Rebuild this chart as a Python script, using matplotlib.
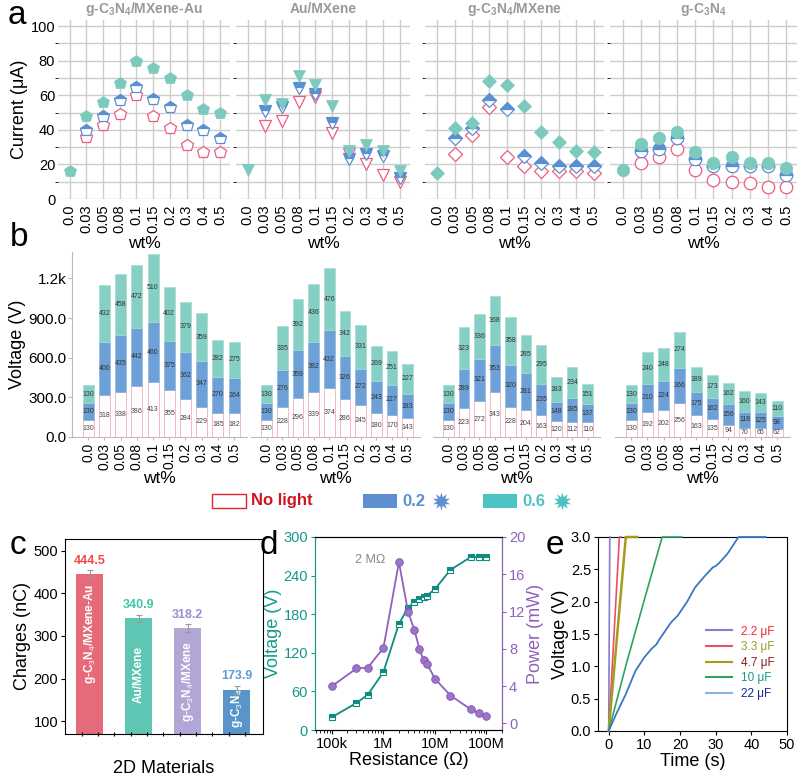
import numpy as np
import matplotlib
matplotlib.use('Agg')
import matplotlib.pyplot as plt
from matplotlib.patches import Rectangle
from matplotlib.lines import Line2D

plt.rcParams['font.family'] = ['Liberation Sans', 'DejaVu Sans']
plt.rcParams['mathtext.fontset'] = 'custom'
plt.rcParams['mathtext.rm'] = 'Liberation Sans'
plt.rcParams['mathtext.it'] = 'Liberation Sans:italic'
plt.rcParams['mathtext.bf'] = 'Liberation Sans:bold'

nan = np.nan

# ---------------- data ----------------
wt = ['0.0', '0.03', '0.05', '0.08', '0.1', '0.15', '0.2', '0.3', '0.4', '0.5']
titles = ['g-C$_\\mathbf{3}$N$_\\mathbf{4}$/MXene-Au', 'Au/MXene',
          'g-C$_\\mathbf{3}$N$_\\mathbf{4}$/MXene', 'g-C$_\\mathbf{3}$N$_\\mathbf{4}$']
markers = ['p', 'v', 'D', 'o']

# panel a: current (uA), no light / 0.2 / 0.6
cur_dark = [
    [nan, 36, 43, 49, 60, 48, 41, 31, 27, 27],
    [nan, 42, 45, 56, 59, 38, 26, 20, 14, 10],
    [nan, 26, 37, 53, 24, 19, 16, 16, 16, 15],
    [nan, 21, 24, 29, 17, 11, 10, 9, 7, 7],
]
cur_02 = [
    [nan, 40, 48, 57, 65, 58, 53, 43, 40, 35],
    [nan, 51, 53, 64, 61, 44, 23, 26, 25, 12],
    [nan, 35, 41, 57, 52, 25, 21, 19, 19, 19],
    [nan, 28, 29, 35, 23, 19, 19, 19, 19, 14],
]
cur_06 = [
    [16, 48, 56, 67, 80, 76, 70, 60, 52, 50],
    [17, 57, 55, 71, 66, 54, 28, 31, 28, 16],
    [15, 41, 44, 68, 66, 54, 39, 33, 28, 27],
    [17, 32, 35, 39, 27, 21, 24, 21, 21, 18],
]

# panel b: voltage (V) stacked
volt_dark = [
    [130, 318, 338, 386, 413, 355, 284, 229, 185, 182],
    [130, 228, 296, 339, 374, 286, 245, 180, 170, 143],
    [130, 223, 272, 343, 228, 204, 163, 120, 112, 110],
    [130, 192, 202, 256, 163, 135, 94, 70, 65, 62],
]
volt_02 = [
    [130, 400, 435, 442, 460, 375, 362, 347, 270, 264],
    [130, 276, 359, 382, 432, 326, 272, 243, 227, 183],
    [130, 289, 321, 353, 320, 281, 235, 148, 185, 137],
    [130, 210, 224, 266, 175, 162, 156, 118, 125, 98],
]
volt_06 = [
    [130, 432, 458, 472, 510, 402, 379, 359, 282, 275],
    [130, 335, 392, 436, 476, 342, 331, 269, 251, 227],
    [130, 323, 336, 368, 358, 285, 295, 183, 234, 151],
    [130, 240, 248, 274, 189, 173, 162, 160, 143, 110],
]

# panel c
c_labels = ['g-C$_3$N$_4$/MXene-Au', 'Au/MXene', 'g-C$_3$N$_4$/MXene', 'g-C$_3$N$_4$']
charges = [444.5, 340.9, 318.2, 173.9]
charges_err = [9, 9, 9, 9]

# panel d
resist = [1e5, 3e5, 5e5, 1e6, 2e6, 3e6, 4e6, 5e6, 6e6, 7e6, 1e7, 2e7, 5e7, 7e7, 1e8]
volt_r = [20, 42, 55, 90, 165, 190, 199, 204, 207, 209, 219, 249, 269, 269, 269]
power_r = [4.0, 5.9, 6.0, 8.1, 17.3, 12.0, 10.0, 8.0, 6.8, 6.4, 4.8, 3.0, 1.5, 1.1, 0.8]

# panel e: charging curves
cap_labels = ['2.2 \u03bcF', '3.3 \u03bcF', '4.7 \u03bcF', '10 \u03bcF', '22 \u03bcF']
t_22 = [0, 2, 4.8, 7.5, 10, 12, 13.4, 14, 16.5, 17.5, 19.3, 22, 24.2, 27, 29.2, 30, 31, 33.3, 36.4, 44]
v_22 = [0, 0.25, 0.57, 0.93, 1.14, 1.27, 1.34, 1.40, 1.60, 1.68, 1.78, 2.0, 2.22, 2.40, 2.53, 2.55, 2.6, 2.74, 3.0, 3.0]
t_10 = [0, 5, 10, 15, 20.5]
v_10 = [0, 1.05, 2.03, 3.0, 3.0]
t_47 = [0, 4.8, 8]
v_47 = [0, 3.0, 3.0]
t_33 = [0, 3.0, 3.4]
v_33 = [0, 3.0, 3.0]
t_22u = [0, 0.3]
v_22u = [0, 3.0]

# ---------------- style ----------------
red = '#EE5C7E'
blue = '#5B8FD3'
teal = '#7CCABD'
bar_blue = '#6CA0D6'
bar_teal = '#85CFC4'
gray_t = '#9A9A9A'

W, H = 800, 777


def box(l, t, r, b):
    return [l / W, 1 - b / H, (r - l) / W, (b - t) / H]


fig = plt.figure(figsize=(8, 7.77), dpi=100)

# ---------------- panel a ----------------
a_boxes = [(58, 20, 230, 199), (236, 20, 410, 199), (425, 20, 604, 199), (610, 20, 797, 199)]
x = np.arange(len(wt))
for i in range(4):
    ax = fig.add_axes(box(*a_boxes[i]))
    m = markers[i]
    ms = 9 if m != 'D' else 7.5
    ax.plot(x, cur_dark[i], m, ls='none', ms=ms, mfc='white', mec=red, mew=0.9)
    ax.plot(x, cur_02[i], m, ls='none', ms=ms, color=blue, fillstyle='top',
            mfc=blue, mfcalt='white', mec=blue, mew=0.9)
    ax.plot(x, cur_06[i], m, ls='none', ms=ms, mfc=teal, mec=teal, mew=0.5)
    ax.set_xlim(-0.7, 9.6)
    ax.set_ylim(0, 103.5)
    ax.set_xticks(x)
    ax.set_xticklabels(wt, rotation=90, fontsize=10)
    ax.set_yticks(np.arange(0, 101, 10), minor=True)
    ax.set_yticks([0, 20, 40, 60, 80, 100])
    ax.grid(True, which='both', color='#CCCCCC', lw=1)
    ax.set_axisbelow(True)
    for s in ax.spines.values():
        s.set_visible(False)
    ax.tick_params(length=0, pad=2, labelsize=10.5)
    ax.tick_params(axis='x', pad=4)
    if i > 0:
        ax.set_yticklabels([])
    else:
        ax.set_ylabel('Current (\u03bcA)', fontsize=13, labelpad=2)
    ax.set_xlabel('wt%', fontsize=12.5, labelpad=2)
    ax.set_title(titles[i], fontsize=10, fontweight='bold', color=gray_t, pad=5)

# ---------------- panel b ----------------
b_boxes = [(72, 252, 247, 437), (251, 252, 420, 437), (433, 252, 600, 437), (615, 252, 790, 437)]
for i in range(4):
    ax = fig.add_axes(box(*b_boxes[i]))
    d = np.array(volt_dark[i])
    v2 = np.array(volt_02[i])
    v6 = np.array(volt_06[i])
    ax.bar(x, d, width=0.68, color='white', edgecolor='#F6B8C6', lw=0.7)
    ax.bar(x, v2, bottom=d, width=0.68, color=bar_blue, edgecolor='#8DB6E2', lw=0.5)
    ax.bar(x, v6, bottom=d + v2, width=0.68, color=bar_teal, edgecolor='#A5DCD4', lw=0.5)
    for j in range(len(x)):
        ax.text(x[j], d[j] / 2, str(d[j]), ha='center', va='center', fontsize=5, color='#444444')
        ax.text(x[j], d[j] + v2[j] / 2, str(v2[j]), ha='center', va='center', fontsize=5, color='#333333')
        ax.text(x[j], d[j] + v2[j] + v6[j] / 2, str(v6[j]), ha='center', va='center', fontsize=5, color='#333333')
    ax.set_xlim(-1.0, 9.8)
    ax.set_ylim(0, 1400)
    ax.set_xticks(x)
    ax.set_xticklabels(wt, rotation=90, fontsize=10)
    for s in ['top', 'right']:
        ax.spines[s].set_visible(False)
    ax.spines['bottom'].set_color('#BBBBBB')
    ax.spines['left'].set_color('#BBBBBB')
    ax.tick_params(axis='x', length=2, color='#BBBBBB', pad=2)
    if i == 0:
        ax.set_yticks([0, 300, 600, 900, 1200])
        ax.set_yticklabels(['0.0', '300.0', '600.0', '900.0', '1.2k'], fontsize=11)
        ax.tick_params(axis='y', length=3, color='#BBBBBB', pad=1)
        ax.set_ylabel('Voltage (V)', fontsize=13, labelpad=2)
    else:
        ax.spines['left'].set_visible(False)
        ax.set_yticks([])
    ax.set_xlabel('wt%', fontsize=12.5, labelpad=1)

# ---------------- legend row ----------------
lg = fig.add_axes([0, 0, 1, 1], facecolor='none')
lg.set_xlim(0, W)
lg.set_ylim(H, 0)
lg.axis('off')
lg.add_patch(Rectangle((212, 494), 34, 14, facecolor='white', edgecolor='#E8202A', lw=1))
lg.text(251, 501, 'No light', color='#D0141E', fontsize=12, fontweight='bold', va='center')
lg.add_patch(Rectangle((363, 494), 34, 14, facecolor='#5E8FD0', edgecolor='none'))
lg.text(402, 501, '0.2', color='#5E8FD0', fontsize=12, fontweight='bold', va='center')
lg.plot([441], [501], marker=(10, 1, 0), ms=13, color='#5E8FD0', mew=0)
lg.add_patch(Rectangle((483, 494), 34, 14, facecolor='#4CC2C2', edgecolor='none'))
lg.text(522, 501, '0.6', color='#4CC2C2', fontsize=12, fontweight='bold', va='center')
lg.plot([562], [501], marker=(10, 1, 0), ms=13, color='#4CC2C2', mew=0)

# ---------------- panel c ----------------
axc = fig.add_axes(box(65, 539, 263, 734))
xc = np.arange(1, 5)
bar_cols = ['#E56B7A', '#5EC6B2', '#B2A6D6', '#5A95CA']
val_cols = ['#F04848', '#45C4A6', '#9C8ED2', '#5B9BD8']
axc.bar(xc, charges, width=0.55, color=bar_cols, yerr=charges_err,
        error_kw=dict(ecolor='#999999', capsize=2, elinewidth=0.8, capthick=0.8))
for j in range(4):
    axc.text(xc[j], charges[j] + 17, f'{charges[j]:.1f}', ha='center', va='bottom',
             color=val_cols[j], fontsize=9, fontweight='bold')
inner_y = [304, 210, 192, 130]
for j in range(4):
    axc.text(xc[j], inner_y[j], c_labels[j], rotation=90, ha='center', va='center',
             color='white', fontsize=8.5, fontweight='bold')
axc.set_xlim(0.49, 4.54)
axc.set_ylim(70, 527)
axc.set_yticks([100, 200, 300, 400, 500])
axc.set_xticks(np.arange(0.83, 4.5, 0.334))
axc.set_xticklabels([])
axc.tick_params(axis='x', length=3, direction='inout')
axc.tick_params(axis='y', labelsize=10.5, length=3, pad=2)
axc.set_ylabel('Charges (nC)', fontsize=13, labelpad=2)
axc.set_xlabel('2D Materials', fontsize=13, labelpad=14)

# ---------------- panel d ----------------
vcol = '#0E8C80'
vtick = '#13998C'
pcol = '#8E62BE'
axd = fig.add_axes(box(315, 537, 502, 730))
axd.plot(resist, volt_r, '-s', color=vcol, lw=1.3, ms=5, fillstyle='top',
         mfc=vcol, mfcalt='white', mec=vcol, mew=0.8, zorder=3)
axd.set_xscale('log')
axd.set_xlim(4.7e4, 2.0e8)
axd.set_ylim(0, 300)
axd.set_yticks([0, 60, 120, 180, 240, 300])
axd.set_xticks([1e5, 1e6, 1e7, 1e8])
axd.set_xticklabels(['100k', '1M', '10M', '100M'])
axd.tick_params(axis='x', labelsize=10.5, length=3, pad=2)
axd.tick_params(axis='y', labelsize=10.5, length=3, colors=vtick, pad=2)
axd.spines['left'].set_color(vtick)
axd.set_ylabel('Voltage (V)', color=vtick, fontsize=13, labelpad=1)
axd.set_xlabel('Resistance (\u03a9)', fontsize=13, labelpad=1)
axd.text(5.5e5, 265, '2 M\u03a9', color='#888888', fontsize=9, ha='center', va='center')
axp = axd.twinx()
axp.plot(resist, power_r, '-o', color=pcol, lw=1.3, ms=5.5, mfc='#9C74C8', mec='#7E55B0', mew=0.6)
axp.set_ylim(-0.7, 20)
axp.set_yticks([0, 4, 8, 12, 16, 20])
axp.tick_params(axis='y', labelsize=10.5, length=3, colors=pcol, pad=2)
axp.spines['right'].set_color(pcol)
axp.spines['left'].set_color(vtick)
axp.set_ylabel('Power (mW)', color=pcol, fontsize=13, labelpad=1)

# ---------------- panel e ----------------
axe = fig.add_axes(box(598, 537, 787, 731))
line_cols = ['#8A7CC8', '#E8506A', '#A59C1C', '#2EA25E', '#3A78C4']
e_t = [t_22u, t_33, t_47, t_10, t_22]
e_v = [v_22u, v_33, v_47, v_10, v_22]
e_lw = [1.2, 1.2, 1.8, 1.2, 1.3]
for k in range(5):
    axe.plot(e_t[k], e_v[k], color=line_cols[k], lw=e_lw[k], clip_on=False, zorder=3)
axe.set_xlim(-3, 50)
axe.set_ylim(0, 3.0)
axe.set_xticks([0, 10, 20, 30, 40, 50])
axe.set_yticks(np.arange(0, 3.01, 0.5))
axe.set_yticklabels([f'{v:.1f}' for v in np.arange(0, 3.01, 0.5)])
axe.tick_params(labelsize=10.5, length=3, pad=2)
axe.set_ylabel('Voltage (V)', fontsize=13, labelpad=1)
axe.set_xlabel('Time (s)', fontsize=13, labelpad=1)
leg_line_cols = ['#8A7CC8', '#E8506A', '#A59C1C', '#2EA25E', '#88B4E4']
leg_text_cols = ['#F02828', '#A09A2A', '#8B1A1A', '#1A9A8A', '#1A2A9A']
handles = [Line2D([], [], color=c, lw=1.5) for c in leg_line_cols]
leg = axe.legend(handles, cap_labels, loc='lower right', frameon=False, fontsize=8.5,
                 handlelength=2.2, labelspacing=0.3, borderaxespad=0.6, bbox_to_anchor=(1.0, 0.1))
for t, c in zip(leg.get_texts(), leg_text_cols):
    t.set_color(c)

# ---------------- panel letters ----------------
for lab, px, py in [('a', 8, 0), ('b', 10, 222), ('c', 10, 530), ('d', 260, 530), ('e', 546, 530)]:
    fig.text(px / W, 1 - py / H, lab, fontsize=24, va='top', ha='left')

fig.savefig('out.png', dpi=100)
